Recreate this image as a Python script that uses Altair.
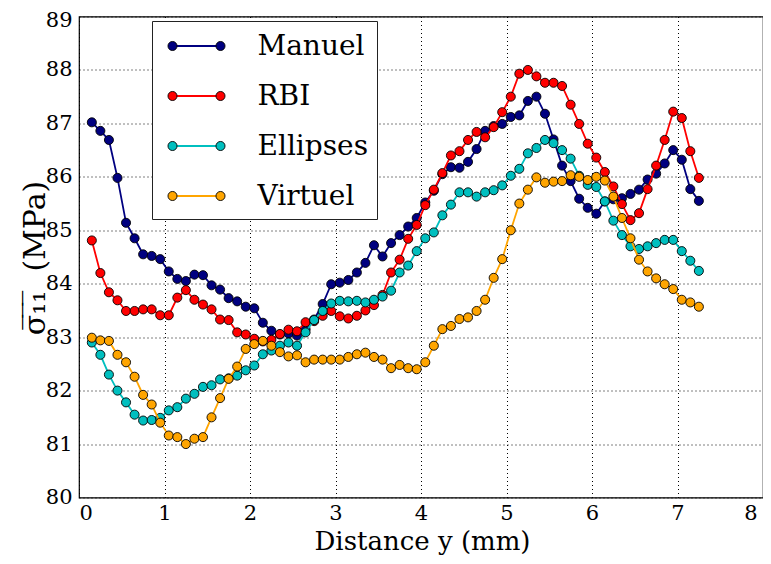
import altair as alt
import pandas as pd

x_mm = [0.15, 0.25, 0.35, 0.45, 0.55, 0.65, 0.75, 0.85, 0.95, 1.05,
        1.15, 1.25, 1.35, 1.45, 1.55, 1.65, 1.75, 1.85, 1.95, 2.05,
        2.15, 2.25, 2.35, 2.45, 2.55, 2.65, 2.75, 2.85, 2.95, 3.05,
        3.15, 3.25, 3.35, 3.45, 3.55, 3.65, 3.75, 3.85, 3.95, 4.05,
        4.15, 4.25, 4.35, 4.45, 4.55, 4.65, 4.75, 4.85, 4.95, 5.05,
        5.15, 5.25, 5.35, 5.45, 5.55, 5.65, 5.75, 5.85, 5.95, 6.05,
        6.15, 6.25, 6.35, 6.45, 6.55, 6.65, 6.75, 6.85, 6.95, 7.05,
        7.15, 7.25]

manuel = [87.02, 86.86, 86.69, 85.98, 85.14, 84.85, 84.55, 84.52, 84.46, 84.23,
          84.09, 84.05, 84.17, 84.16, 83.97, 83.89, 83.73, 83.67, 83.57, 83.54,
          83.27, 83.12, 83.05, 83.07, 83.03, 83.15, 83.33, 83.62, 83.99, 84.02,
          84.07, 84.21, 84.39, 84.72, 84.51, 84.76, 84.91, 85.07, 85.23, 85.52,
          85.74, 86.05, 86.18, 86.17, 86.28, 86.52, 86.86, 86.95, 86.99, 87.12,
          87.15, 87.42, 87.50, 87.18, 86.70, 86.21, 85.92, 85.59, 85.42, 85.31,
          85.54, 85.58, 85.60, 85.68, 85.76, 85.95, 86.06, 86.25, 86.50, 86.32,
          85.77, 85.55]

rbi = [84.81, 84.20, 83.84, 83.69, 83.49, 83.49, 83.52, 83.52, 83.41, 83.41,
       83.74, 83.88, 83.70, 83.61, 83.52, 83.33, 83.32, 83.09, 83.05, 82.97,
       82.92, 82.95, 83.06, 83.14, 83.11, 83.28, 83.30, 83.40, 83.49, 83.39,
       83.35, 83.40, 83.50, 83.60, 83.79, 84.21, 84.45, 84.84, 85.10, 85.47,
       85.76, 86.07, 86.40, 86.48, 86.69, 86.84, 86.74, 86.93, 87.21, 87.50,
       87.93, 88.00, 87.88, 87.76, 87.76, 87.70, 87.35, 86.99, 86.62, 86.36,
       86.09, 85.82, 85.49, 85.19, 85.32, 85.77, 86.21, 86.69, 87.22, 87.10,
       86.48, 85.98]

ellipses = [82.90, 82.67, 82.30, 82.00, 81.78, 81.55, 81.44, 81.45, 81.49, 81.63,
            81.69, 81.85, 81.94, 82.07, 82.10, 82.21, 82.23, 82.28, 82.38, 82.47,
            82.68, 82.75, 82.84, 82.90, 82.84, 83.09, 83.32, 83.49, 83.63, 83.68,
            83.67, 83.68, 83.65, 83.70, 83.76, 83.87, 84.21, 84.34, 84.61, 84.85,
            84.96, 85.28, 85.48, 85.71, 85.71, 85.63, 85.71, 85.75, 85.84, 86.02,
            86.15, 86.44, 86.54, 86.69, 86.63, 86.50, 86.34, 86.02, 85.85, 85.81,
            85.54, 85.18, 84.91, 84.70, 84.65, 84.70, 84.76, 84.82, 84.82, 84.61,
            84.43, 84.24]

virtuel = [82.99, 82.94, 82.93, 82.67, 82.53, 82.26, 81.92, 81.74, 81.40, 81.16,
           81.13, 81.00, 81.10, 81.13, 81.50, 81.86, 82.22, 82.45, 82.78, 82.87,
           82.93, 82.84, 82.72, 82.64, 82.66, 82.53, 82.58, 82.58, 82.58, 82.58,
           82.63, 82.68, 82.71, 82.63, 82.58, 82.42, 82.48, 82.42, 82.40, 82.53,
           82.84, 83.15, 83.21, 83.34, 83.37, 83.49, 83.70, 84.11, 84.46, 85.00,
           85.50, 85.76, 85.99, 85.89, 85.91, 85.92, 86.03, 86.00, 85.94, 86.00,
           85.93, 85.63, 85.23, 84.85, 84.45, 84.23, 84.10, 83.99, 83.90, 83.70,
           83.65, 83.57]

names = ["Manuel", "RBI", "Ellipses", "Virtuel"]
colors = ["#000080", "#ff0000", "#00bfbf", "#ffa500"]
x_ticks = [0, 1, 2, 3, 4, 5, 6, 7, 8]
y_ticks = [80, 81, 82, 83, 84, 85, 86, 87, 88, 89]

series = [manuel, rbi, ellipses, virtuel]
rows = []
for name, vals in zip(names, series):
    for xv, yv in zip(x_mm, vals):
        rows.append({"x": xv, "y": yv, "series": name})
df = pd.DataFrame(rows)
leg_df = pd.DataFrame({"series": names})
box_df = pd.DataFrame({"k": [0]})

FONT = "DejaVu Serif"
W, H = 684, 481

color_enc = alt.Color("series:N", scale=alt.Scale(domain=names, range=colors), legend=None)
fill_enc = alt.Fill("series:N", scale=alt.Scale(domain=names, range=colors), legend=None)

common_axis = dict(labelFontSize=21, ticks=False, domain=False,
                   grid=True, gridColor="black", gridDash=[1, 3],
                   gridWidth=1, gridOpacity=1, labelFont=FONT, titleFont=FONT,
                   labelColor="black", titleColor="black", titleFontWeight="normal",
                   format="d")

xenc = alt.X("x:Q", scale=alt.Scale(domain=[0, 8], nice=False),
             axis=alt.Axis(values=x_ticks, title="Distance y (mm)",
                           titleFontSize=26, labelPadding=5,
                           titleX=343, titleY=52, titleBaseline="alphabetic",
                           titleAlign="center",
                           labelOffset={"condition": {"test": "datum.value == 8", "value": -6}, "value": 0},
                           **common_axis))
yenc = alt.Y("y:Q", scale=alt.Scale(domain=[80, 89], nice=False),
             axis=alt.Axis(values=y_ticks, title="σ̅₁̅₁̅\u00a0 (MPa)",
                           titleFontSize=30, labelPadding=7,
                           titleX=-44, titleY=241, titleAngle=270,
                           titleAlign="center", titleBaseline="middle",
                           labelOffset={"condition": {"test": "datum.value == 89", "value": 4}, "value": 0},
                           **common_axis))

layers = []
for name in names:
    base = alt.Chart(df).transform_filter(alt.datum.series == name)
    layers.append(base.mark_line(strokeWidth=1.8).encode(x=xenc, y=yenc, color=color_enc))
    layers.append(base.mark_point(filled=True, size=82, stroke="black", strokeWidth=0.9,
                                  opacity=1, shape="circle")
                  .encode(x=xenc, y=yenc, fill=fill_enc))

data_chart = alt.layer(*layers)

# legend (frame, sample lines with two markers, labels)
box = alt.Chart(box_df).mark_rect(fill="white", stroke="#222222", strokeWidth=1).encode(
    x=alt.value(73.5), x2=alt.value(298.5), y=alt.value(5), y2=alt.value(203))
ly = alt.Y("series:N", scale=alt.Scale(type="point", domain=names, range=[29.5, 179.5], padding=0), axis=None)
leg_line = alt.Chart(leg_df).mark_rule(strokeWidth=1.8).encode(
    x=alt.value(93.5), x2=alt.value(141.5), y=ly, color=color_enc)
leg_p1 = alt.Chart(leg_df).mark_point(filled=True, size=82, stroke="black", strokeWidth=0.9,
                                      opacity=1, shape="circle").encode(
    x=alt.value(93.5), y=ly, fill=fill_enc)
leg_p2 = alt.Chart(leg_df).mark_point(filled=True, size=82, stroke="black", strokeWidth=0.9,
                                      opacity=1, shape="circle").encode(
    x=alt.value(141.5), y=ly, fill=fill_enc)
leg_txt = alt.Chart(leg_df).mark_text(align="left", baseline="middle", font=FONT, fontSize=28,
                                      color="black", dy=1).encode(
    x=alt.value(178.5), y=ly, text="series:N")
legend = alt.layer(box, leg_line, leg_p1, leg_p2, leg_txt)

chart = alt.layer(data_chart, legend).resolve_scale(y="independent").properties(
    width=W, height=H,
    autosize=alt.AutoSizeParams(type="none"),
    padding={"left": 71, "top": 8.5, "right": 0, "bottom": 58},
    background="white",
).configure_view(stroke="black", strokeWidth=1.2)

chart.save("out.html", embed_options={"renderer": "svg", "actions": False})
